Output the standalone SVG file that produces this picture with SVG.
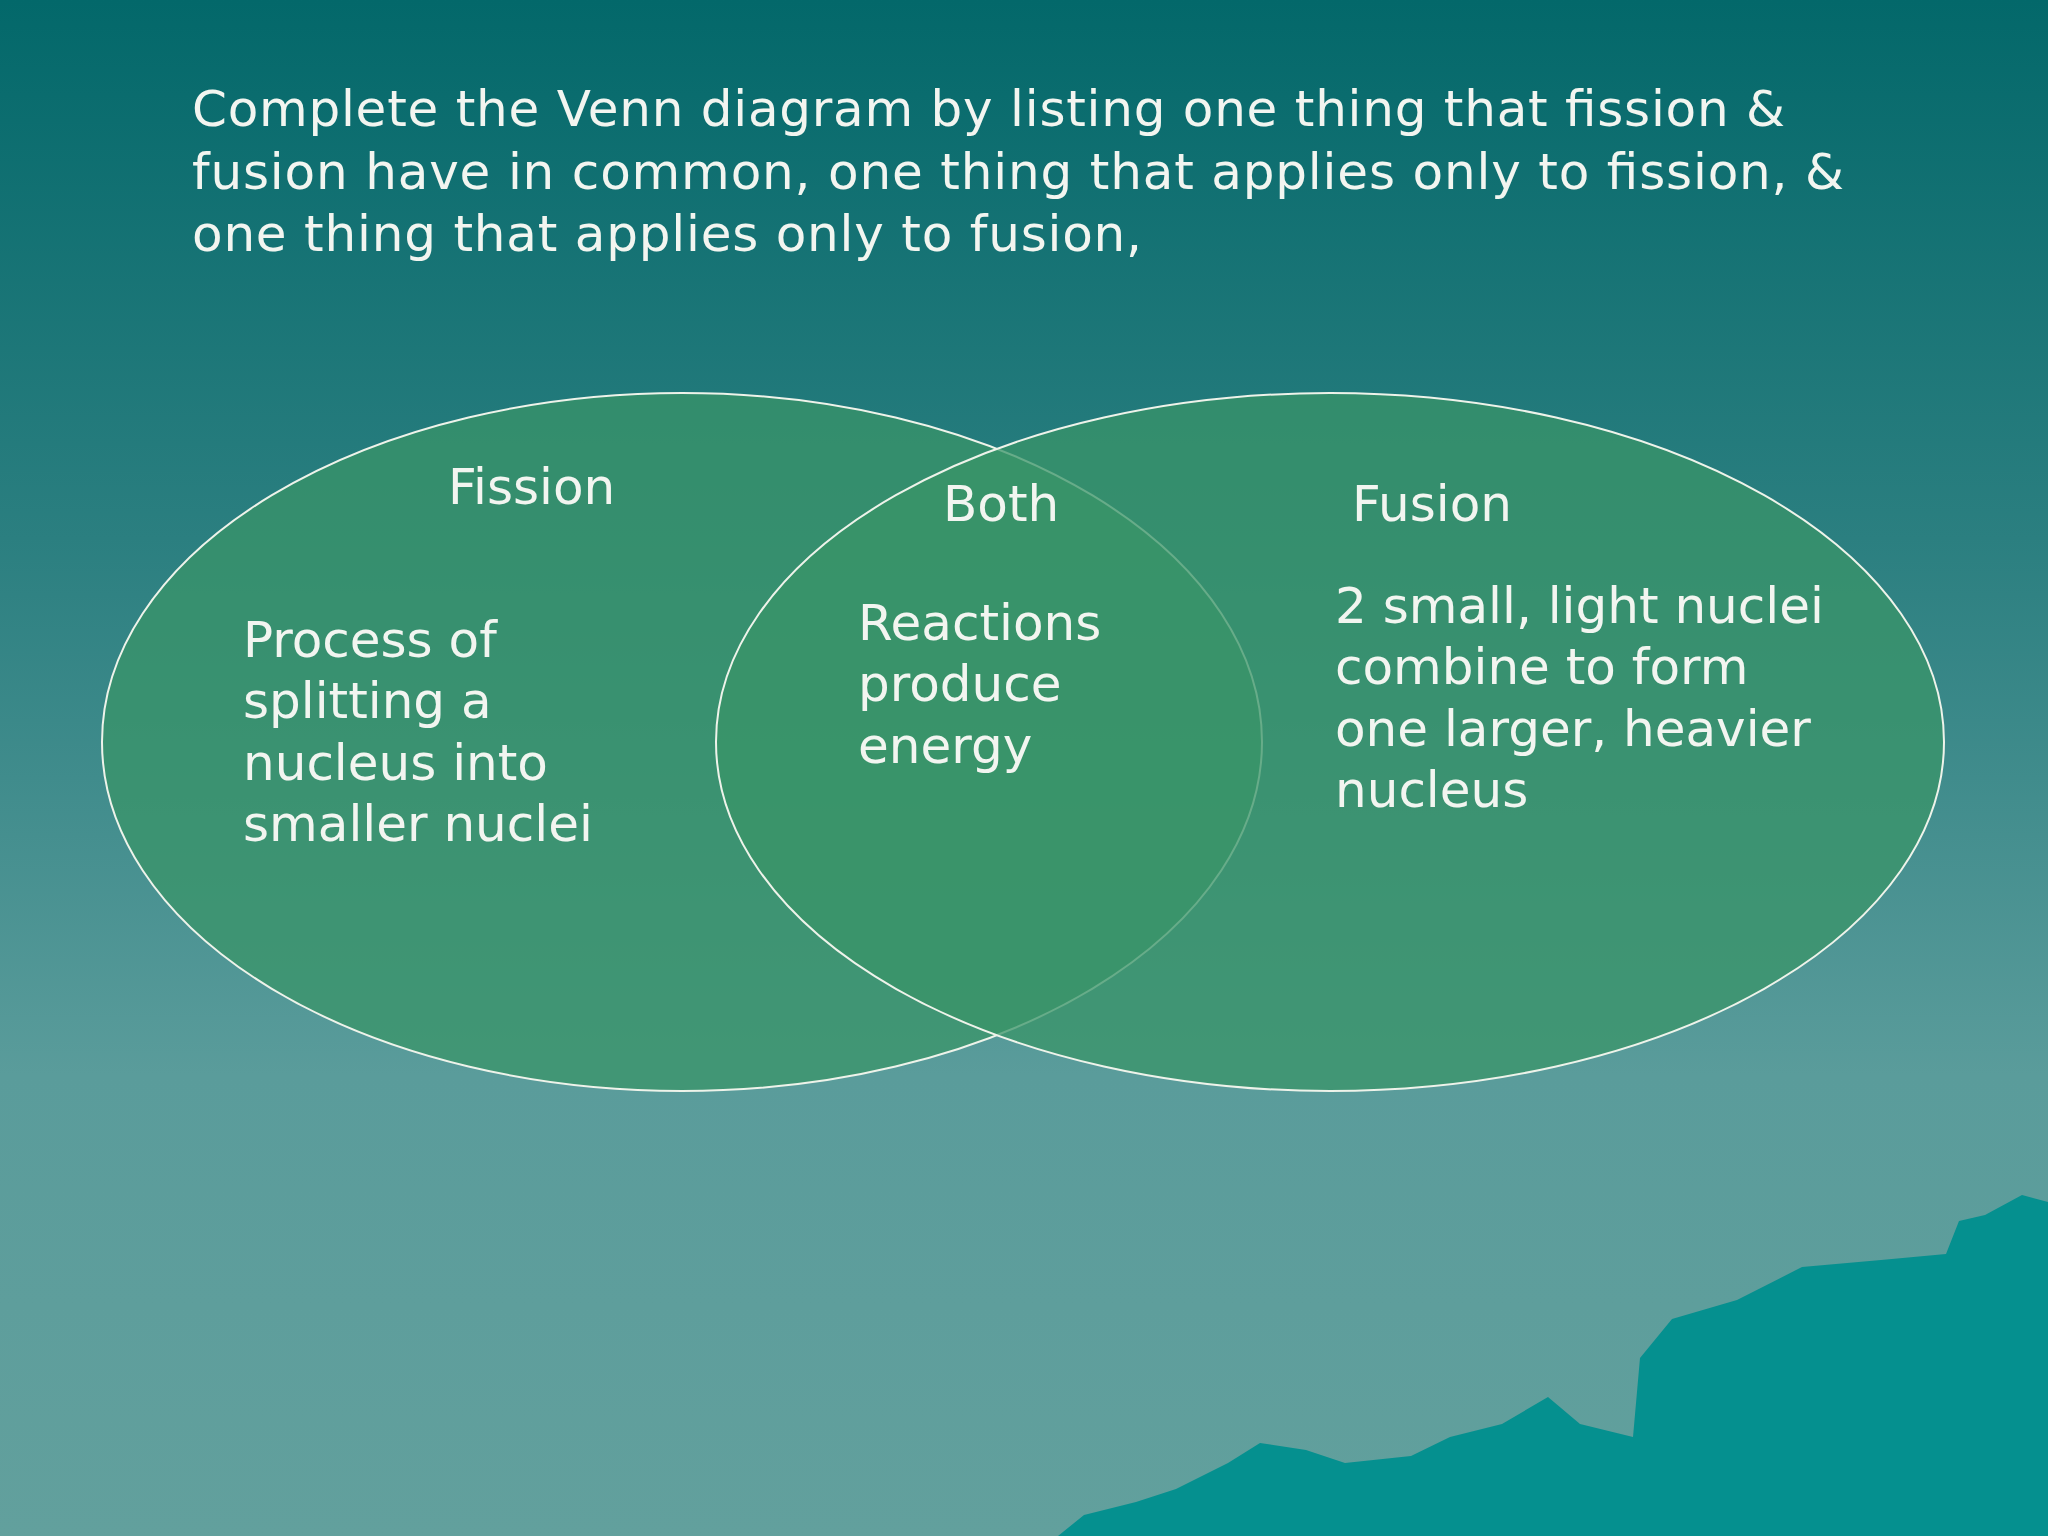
<svg xmlns="http://www.w3.org/2000/svg" width="2048" height="1536" viewBox="0 0 2048 1536">
<defs>
<linearGradient id="bg" x1="0" y1="0" x2="0" y2="1">
<stop offset="0" stop-color="#03686a"/>
<stop offset="0.35" stop-color="#2b7f80"/>
<stop offset="0.7" stop-color="#5a9c9b"/>
<stop offset="1" stop-color="#62a09d"/>
</linearGradient>
<style>
text{font-family:"DejaVu Sans","Verdana",sans-serif;fill:#f2f5f0}
.t{font-size:50px}
.l{font-size:50px}
.e{fill:#3a9468;fill-opacity:0.75;stroke:#eef3ea;stroke-width:2}
</style>
</defs>
<rect width="2048" height="1536" fill="url(#bg)"/>
<polygon fill="#05908f" points="1058,1536 1084,1515 1136,1502 1176,1489 1228,1463 1260,1443 1306,1450 1345,1463 1411,1456 1450,1437 1502,1424 1548,1397 1580,1424 1633,1437 1640,1358 1672,1319 1737,1300 1802,1267 1881,1260 1946,1254 1959,1221 1985,1215 2022,1195 2048,1202 2048,1536"/>
<g id="title">
<text class="t" x="192" y="126" textLength="1593">Complete the Venn diagram by listing one thing that fission &amp;</text>
<text class="t" x="192" y="189" textLength="1652">fusion have in common, one thing that applies only to fission, &amp;</text>
<text class="t" x="192" y="251" textLength="950">one thing that applies only to fusion,</text>
</g>
<g id="fission"><ellipse class="e" cx="682" cy="742" rx="580" ry="349"/></g>
<g id="fusion"><ellipse class="e" cx="1330" cy="742" rx="614" ry="349"/></g>
<g id="labels">
<text class="l" x="448" y="504">Fission</text>
<text class="l" x="943" y="521">Both</text>
<text class="l" x="1352" y="521">Fusion</text>
<text class="l" x="243" y="657">Process of</text>
<text class="l" x="243" y="718">splitting a</text>
<text class="l" x="243" y="780">nucleus into</text>
<text class="l" x="243" y="841">smaller nuclei</text>
<text class="l" x="858" y="640">Reactions</text>
<text class="l" x="858" y="701">produce</text>
<text class="l" x="858" y="763">energy</text>
<text class="l" x="1335" y="623">2 small, light nuclei</text>
<text class="l" x="1335" y="684">combine to form</text>
<text class="l" x="1335" y="746">one larger, heavier</text>
<text class="l" x="1335" y="807">nucleus</text>
</g>
<g id="connectors"/>
</svg>
